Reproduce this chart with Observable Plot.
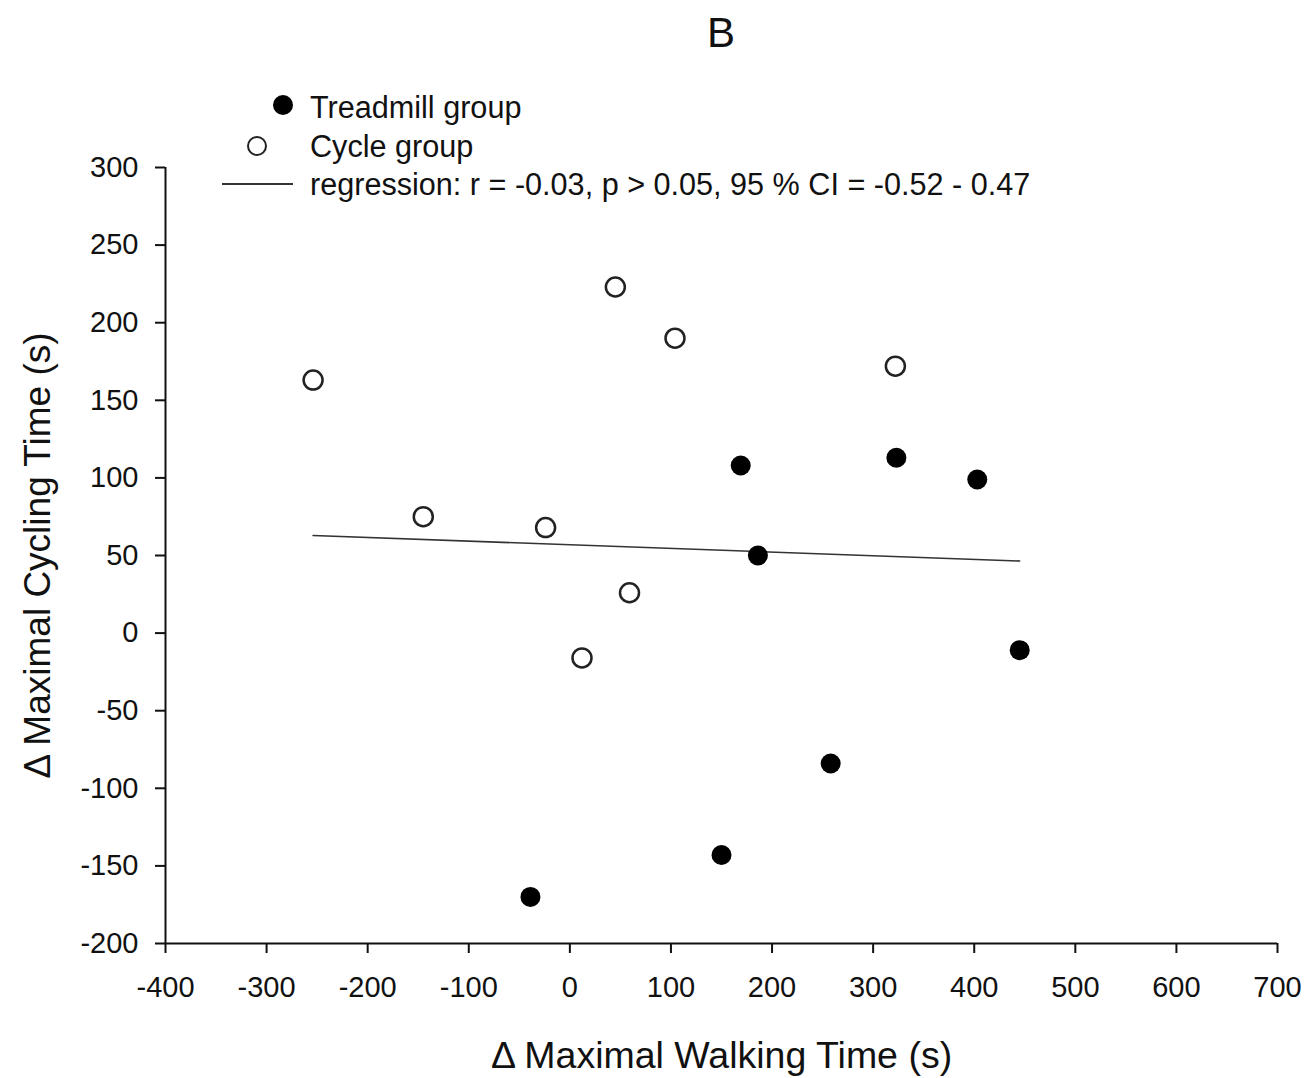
<!DOCTYPE html>
<html>
<head>
<meta charset="utf-8">
<script src="https://cdn.jsdelivr.net/npm/d3@7"></script>
<script src="https://cdn.jsdelivr.net/npm/@observablehq/plot@0.6"></script>
<style>
  html, body { margin: 0; padding: 0; background: #fff; }
  body { font-family: "Liberation Sans", Arial, sans-serif; color: #111; }
  #wrap { position: relative; width: 1311px; height: 1078px; overflow: hidden; }
  #chart { position: absolute; left: 0; top: 0; }
  .title { position: absolute; left: 621px; width: 200px; top: 12px; text-align: center; font-size: 42px; line-height: 42px; }
  .leg { position: absolute; left: 310px; font-size: 30.6px; line-height: 30px; white-space: nowrap; }
  .sym { position: absolute; box-sizing: border-box; }
</style>
</head>
<body>
<div id="wrap">
  <div id="chart"></div>
  <div class="title">B</div>
  <div class="sym" style="left:273px;top:95px;width:20px;height:20px;border-radius:50%;background:#000;"></div>
  <div class="leg" style="top:92px;">Treadmill group</div>
  <div class="sym" style="left:247px;top:136px;width:20px;height:20px;border-radius:50%;border:2.5px solid #222;background:#fff;"></div>
  <div class="leg" style="top:131px;">Cycle group</div>
  <div class="sym" style="left:222px;top:183px;width:71px;height:2px;background:#333;"></div>
  <div class="leg" style="top:169px;">regression: r = -0.03, p &gt; 0.05, 95 % CI = -0.52 - 0.47</div>
</div>
<script>
// Data
const treadmillX = [-39, 150, 169, 186, 258, 323, 403, 445];
const treadmillY = [-170, -143, 108, 50, -84, 113, 99, -11];
const cycleX = [-254, -145, -24, 12, 45, 59, 104, 322];
const cycleY = [163, 75, 68, -16, 223, 26, 190, 172];

const xTicks = [-400, -300, -200, -100, 0, 100, 200, 300, 400, 500, 600, 700];
const yTicks = [-200, -150, -100, -50, 0, 50, 100, 150, 200, 250, 300];
const xLabel = "Δ Maximal Walking Time (s)";
const yLabel = "Δ Maximal Cycling Time (s)";

const treadmill = treadmillX.map((x, i) => ({x, y: treadmillY[i], group: "Treadmill group"}));
const cycle = cycleX.map((x, i) => ({x, y: cycleY[i], group: "Cycle group"}));
const all = treadmill.concat(cycle);

const chart = Plot.plot({
  width: 1311,
  height: 1078,
  marginTop: 167,
  marginBottom: 135,
  marginLeft: 165,
  marginRight: 34,
  style: { fontFamily: "'Liberation Sans', Arial, sans-serif", color: "#111", background: "#fff", overflow: "visible" },
  x: { domain: [-400, 700] },
  y: { domain: [-200, 300] },
  marks: [
    Plot.axisX({ ticks: xTicks, tickFormat: d => String(d), tickSize: 10, tickPadding: 23, strokeWidth: 2, fontSize: 29, label: null }),
    Plot.axisY({ ticks: yTicks, tickFormat: d => String(d), tickSize: 10, tickPadding: 17, strokeWidth: 2, fontSize: 29, label: null }),
    Plot.ruleY([-200], { stroke: "#111", strokeWidth: 2 }),
    Plot.ruleX([-400], { stroke: "#111", strokeWidth: 2 }),
    Plot.linearRegressionY(all, { x: "x", y: "y", ci: 0, stroke: "#333", strokeWidth: 1.6 }),
    Plot.dot(treadmill, { x: "x", y: "y", r: 10, fill: "#000", stroke: "none" }),
    Plot.dot(cycle, { x: "x", y: "y", r: 9.5, fill: "#fff", stroke: "#222", strokeWidth: 2.5 }),
    Plot.text([xLabel], { text: d => d, frameAnchor: "bottom", dy: 112, textAnchor: "middle", lineAnchor: "middle", fontSize: 37.5, fill: "#111" }),
    Plot.text([yLabel], { text: d => d, frameAnchor: "left", dx: -127, rotate: -90, textAnchor: "middle", lineAnchor: "middle", fontSize: 37, fill: "#111" })
  ]
});
document.getElementById("chart").appendChild(chart);
</script>
</body>
</html>
